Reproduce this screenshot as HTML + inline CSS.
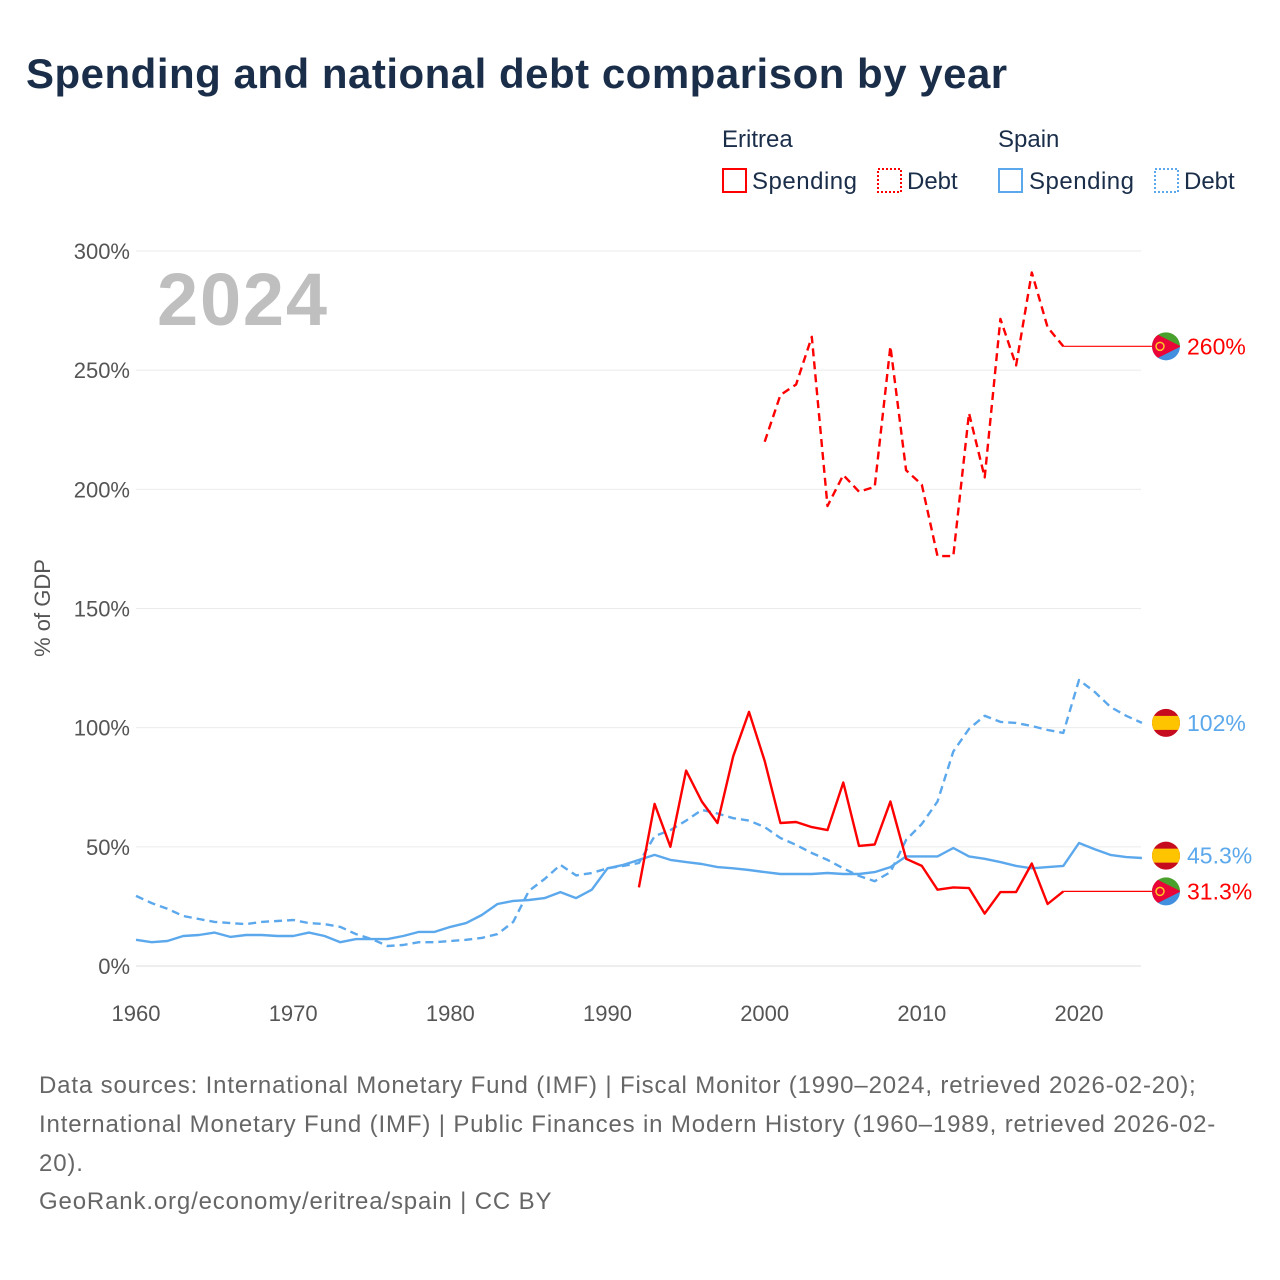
<!DOCTYPE html>
<html><head><meta charset="utf-8">
<style>
body{margin:0;background:#fff;font-family:"Liberation Sans",sans-serif;}
#wrap{position:relative;width:1280px;height:1280px;overflow:hidden;}
h1{position:absolute;left:26px;top:50px;margin:0;font-size:42px;font-weight:bold;color:#1a2e4a;letter-spacing:0.5px;}
.foot{position:absolute;left:39px;font-size:24px;color:#666;line-height:39px;letter-spacing:0.85px;}
</style></head><body>
<div id="wrap">
<h1>Spending and national debt comparison by year</h1>
<svg id="chart" width="1280" height="1060" style="position:absolute;left:0;top:0">
<defs>
<clipPath id="c1"><circle cx="0" cy="0" r="14"/></clipPath>
</defs>
<g font-size="24" fill="#1a2e4a">
<text x="722" y="147">Eritrea</text>
<text x="998" y="147">Spain</text>
<g><rect x="723" y="169" width="23" height="23" fill="none" stroke="#f00" stroke-width="2"/><text x="752" y="189" textLength="105">Spending</text></g>
<g><rect x="878" y="169" width="23" height="23" fill="none" stroke="#f00" stroke-width="2" stroke-dasharray="2,2"/><text x="907" y="189">Debt</text></g>
<g><rect x="999" y="169" width="23" height="23" fill="none" stroke="#5ca8ec" stroke-width="2"/><text x="1029" y="189" textLength="105">Spending</text></g>
<g><rect x="1155" y="169" width="23" height="23" fill="none" stroke="#5ca8ec" stroke-width="2" stroke-dasharray="2,2"/><text x="1184" y="189">Debt</text></g>
</g>
<text x="157" y="325" font-size="74" font-weight="bold" fill="#bfbfbf" textLength="170">2024</text>
<text transform="translate(50,608) rotate(-90)" text-anchor="middle" font-size="22" fill="#555">% of GDP</text>
<g id="grid"></g><g id="series"></g><g id="ends"></g>
</svg>
<div class="foot" style="top:1066px">Data sources: International Monetary Fund (IMF) | Fiscal Monitor (1990–2024, retrieved 2026-02-20);<br>International Monetary Fund (IMF) | Public Finances in Modern History (1960–1989, retrieved 2026-02-<br>20).</div>
<div class="foot" style="top:1182px">GeoRank.org/economy/eritrea/spain | CC BY</div>
</div>
<script>
const yTicks=[0,50,100,150,200,250,300];
const xTicks=[1960,1970,1980,1990,2000,2010,2020];
const spainSpendYears=[];for(let y=1960;y<=2024;y++)spainSpendYears.push(y);
const spainSpending=[11,10,10.5,12.6,13,14,12.2,13,13,12.6,12.6,14,12.6,10,11.3,11.3,11.3,12.6,14.3,14.3,16.4,18,21.4,26,27.3,27.7,28.5,31,28.5,32,41,42.4,44.5,46.6,44.5,43.6,42.8,41.5,41,40.3,39.4,38.6,38.6,38.6,39,38.6,38.6,39.4,41.5,46,46,46,49.5,46,45,43.6,42,41,41.5,42,51.6,49,46.6,45.7,45.3];
const spainDebt=[29.4,26.4,24,21,19.7,18.5,18,17.6,18.5,18.9,19.3,18,17.6,16.4,13.4,11.3,8.4,8.8,10,10,10.5,11,11.8,13.4,18.5,31.5,36.5,42.4,38,39,41,42,43.2,54.5,57,61,65.5,64,62,61,58.3,53.7,50.8,47.4,44.5,41,37.8,35.6,39.4,52.9,59.6,69,90,99.5,105,102.4,102,100.7,99,97.8,120,115,108.7,105,102];
const eriSpendYears=[];for(let y=1992;y<=2019;y++)eriSpendYears.push(y);
const eritreaSpending=[33,68,50,82,69,60,88,106.6,86,60,60.4,58.3,57,77,50.4,51,69,45,42,32,33,32.7,22,31,31,43,26,31.3];
const eriDebtYears=[];for(let y=2000;y<=2019;y++)eriDebtYears.push(y);
const eritreaDebt=[220,239.6,244,264,193,206,199,201,260,208,202,172,172,232,205,271.5,252,291,268,260];
const endYear=2024;

const X=y=>136+(y-1960)*(1079-136)/60;
const Y=v=>966-v*(966-251)/300;
const NS='http://www.w3.org/2000/svg';
function mk(tag,attrs,parent){const e=document.createElementNS(NS,tag);for(const k in attrs)e.setAttribute(k,attrs[k]);parent.appendChild(e);return e;}
const grid=document.getElementById('grid'),ser=document.getElementById('series'),ends=document.getElementById('ends');
yTicks.forEach(t=>{
 const l=mk('line',{x1:136,x2:1141,y1:Y(t),y2:Y(t),stroke:t===0?'#ddd':'#ebebeb','stroke-width':1},grid);
 
 
 const tx=mk('text',{x:130,y:Y(t)+8,'text-anchor':'end','font-size':22,fill:'#555'},grid);tx.textContent=t+'%';
 
 
});
xTicks.forEach(t=>{
 const tx=mk('text',{x:X(t),y:1021,'text-anchor':'middle','font-size':22,fill:'#555'},grid);tx.textContent=t;
 
 
});
function line(years,vals,color,dash,name){
 const d=vals.map((v,i)=>(i?'L':'M')+X(years[i]).toFixed(1)+','+Y(v).toFixed(1)).join('');
 const p=mk('path',{d:d,fill:'none',stroke:color,'stroke-width':2.4,'stroke-linejoin':'round'},ser);
 if(dash)p.setAttribute('stroke-dasharray','8,5');
 
 
 return p;
}
function ext(years,vals,color,name){
 const ly=years[years.length-1],lv=vals[vals.length-1];
 if(ly<endYear){const p=mk('line',{x1:X(ly),x2:X(endYear)+10,y1:Y(lv),y2:Y(lv),stroke:color,'stroke-width':1.2},ser);
 
 }
}
const red='#ff0000',blue='#5ca8ec';
line(spainSpendYears,spainDebt,blue,true,'spain-debt-line');
line(spainSpendYears,spainSpending,blue,false,'spain-spending-line');
line(eriDebtYears,eritreaDebt,red,true,'eritrea-debt-line');
line(eriSpendYears,eritreaSpending,red,false,'eritrea-spending-line');
ext(eriDebtYears,eritreaDebt,red,'eritrea-debt-extension');
ext(eriSpendYears,eritreaSpending,red,'eritrea-spending-extension');
function flag(type,cy){
 const g=mk('g',{transform:`translate(1166,${cy})`},ends);
 const c=mk('g',{'clip-path':'url(#c1)'},g);
 if(type==='es'){mk('rect',{x:-15,y:-15,width:30,height:30,fill:'#c60b1e'},c);mk('rect',{x:-15,y:-7,width:30,height:14,fill:'#ffc400'},c);}
 else{mk('rect',{x:-15,y:-15,width:30,height:15,fill:'#4aa02c'},c);mk('rect',{x:-15,y:0,width:30,height:15,fill:'#418fde'},c);mk('polygon',{points:'-15,-15 15,0 -15,15',fill:'#ea0437'},c);mk('circle',{cx:-6,cy:0,r:4,fill:'none',stroke:'#ffc726','stroke-width':1.5},c);}
 
 
}
function endLabel(v,txt,color,type,name){
 flag(type,Y(v));
 const t=mk('text',{x:1187,y:Y(v)+8,'font-size':23,fill:color},ends);t.textContent=txt;
 
 
}
endLabel(eritreaDebt[eritreaDebt.length-1],'260%',red,'er','eritrea-debt-end-label');
endLabel(spainDebt[spainDebt.length-1],'102%',blue,'es','spain-debt-end-label');
endLabel(spainSpending[spainSpending.length-1]+1,'45.3%',blue,'es','spain-spending-end-label');
endLabel(eritreaSpending[eritreaSpending.length-1],'31.3%',red,'er','eritrea-spending-end-label');
</script>
</body></html>
